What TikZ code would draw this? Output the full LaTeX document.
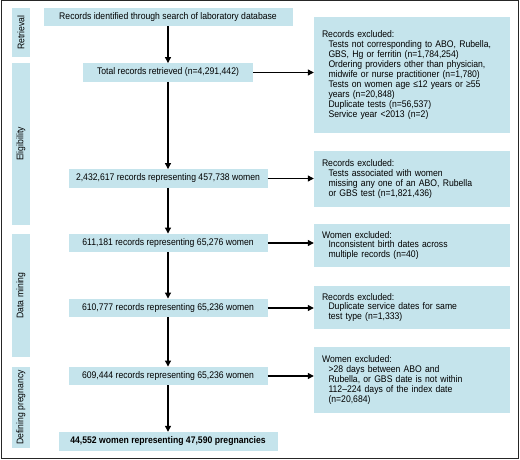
\documentclass[tikz,border=0pt]{standalone}
\usepackage{fontspec}
\setmainfont{Liberation Sans}[FakeStretch=0.9]
\usetikzlibrary{arrows.meta}
\definecolor{boxblue}{RGB}{197,228,236}
\newcommand{\fsz}{\fontsize{9.6}{9.9}\selectfont}
\newcommand{\ind}{\hspace*{6.5pt}}
\begin{document}
\begin{tikzpicture}[x=1pt,y=-1pt,
  mainbox/.style={fill=boxblue, inner sep=0pt, align=center, font=\fsz, minimum height=18.5},
  phasebox/.style={fill=boxblue, inner sep=0pt, align=center, font=\fsz, minimum height=18, rotate=90},
  exbox/.style={fill=boxblue, inner xsep=8pt, inner ysep=0pt, align=left, font=\fsz, minimum width=196, text width=180, anchor=center},
  arr/.style={draw=black, line width=1.1pt, -{Triangle[length=6pt,width=6pt]}}]
\useasboundingbox (0,0) rectangle (520,460);
\draw[line width=1pt, black!85] (1,1) rectangle (518,458);
% phase labels
\node[phasebox, minimum width=49] (p1) at (21,32.5) {Retrieval};
\node[phasebox, minimum width=162] (p2) at (21,144) {Eligibility};
\node[phasebox, minimum width=123] (p3) at (21,295.5) {Data mining};
\node[phasebox, minimum width=81] (p4) at (21,407.5) {Defining pregnancy};
% main boxes
\node[mainbox, minimum width=249] (b1) at (168,17) {Records identified through search of laboratory database};
\node[mainbox, minimum width=170] (b2) at (168,72.5) {Total records retrieved (n=4,291,442)};
\node[mainbox, minimum width=199] (b3) at (168,178.5) {2,432,617 records representing 457,738 women};
\node[mainbox, minimum width=199] (b4) at (168,243) {611,181 records representing 65,276 women};
\node[mainbox, minimum width=199] (b5) at (168,308) {610,777 records representing 65,236 women};
\node[mainbox, minimum width=199] (b6) at (168,376) {609,444 records representing 65,236 women};
\node[mainbox, minimum width=219, minimum height=19, font=\fsz\bfseries] (b7) at (168,441.5) {44,552 women representing 47,590 pregnancies};
% exclusion boxes
\node[exbox, minimum height=116] (e1) at (412,75) {Records excluded:\\
\ind Tests not corresponding to ABO, Rubella,\\
\ind GBS, Hg or ferritin (n=1,784,254)\\
\ind Ordering providers other than physician,\\
\ind midwife or nurse practitioner (n=1,780)\\
\ind Tests on women age ≤12 years or ≥55\\
\ind years (n=20,848)\\
\ind Duplicate tests (n=56,537)\\
\ind Service year <2013 (n=2)};
\node[exbox, minimum height=56] (e2) at (412,179) {Records excluded:\\
\ind Tests associated with women\\
\ind missing any one of an ABO, Rubella\\
\ind or GBS test (n=1,821,436)};
\node[exbox, minimum height=43] (e3) at (412,245.5) {Women excluded:\\
\ind Inconsistent birth dates across\\
\ind multiple records (n=40)};
\node[exbox, minimum height=43] (e4) at (412,307.5) {Records excluded:\\
\ind Duplicate service dates for same\\
\ind test type (n=1,333)};
\node[exbox, minimum height=66] (e5) at (412,380) {Women excluded:\\
\ind >28 days between ABO and\\
\ind Rubella, or GBS date is not within\\
\ind 112–224 days of the index date\\
\ind (n=20,684)};
% vertical arrows
\draw[arr] (b1.south) -- (b2.north);
\draw[arr] (b2.south) -- (b3.north);
\draw[arr] (b3.south) -- (b4.north);
\draw[arr] (b4.south) -- (b5.north);
\draw[arr] (b5.south) -- (b6.north);
\draw[arr] (b6.south) -- (b7.north);
% horizontal arrows
\draw[arr] (b2.east) -- (b2.east -| e1.west);
\draw[arr] (b3.east) -- (b3.east -| e2.west);
\draw[arr] (b4.east) -- (b4.east -| e3.west);
\draw[arr] (b5.east) -- (b5.east -| e4.west);
\draw[arr] (b6.east) -- (b6.east -| e5.west);
\end{tikzpicture}
\end{document}
